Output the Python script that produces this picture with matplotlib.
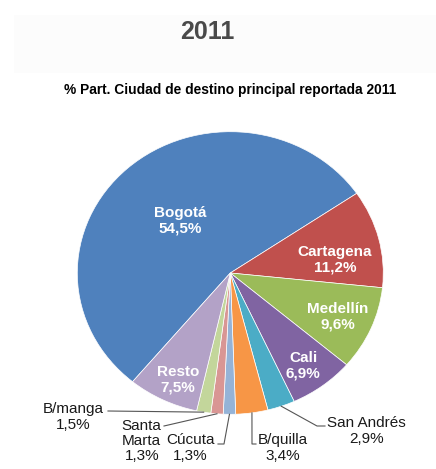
import numpy as np
import matplotlib.pyplot as plt
from matplotlib.patches import Rectangle

plt.rcParams['font.family'] = ['Liberation Sans', 'DejaVu Sans']

# Data (share of trips by main destination city, 2011)
cities = ['Bogotá', 'Cartagena', 'Medellín', 'Cali', 'San Andrés',
          'B/quilla', 'Cúcuta', 'Santa\nMarta', 'B/manga', 'Resto']
share = [54.5, 11.2, 9.6, 6.9, 2.9, 3.4, 1.3, 1.3, 1.5, 7.5]
pct_labels = ['54,5%', '11,2%', '9,6%', '6,9%', '2,9%',
              '3,4%', '1,3%', '1,3%', '1,5%', '7,5%']
colors = ['#4f81bd', '#c0504d', '#9bbb59', '#8064a2', '#4bacc6',
          '#f79646', '#95b3d7', '#d99694', '#c3d69b', '#b3a2c7']

W, H = 436, 469
fig = plt.figure(figsize=(W / 100, H / 100), dpi=100)

# pie bounding box in pixels (slightly wider than tall, like the source)
cx, cy, rx, ry = 230.3, 273.0, 153.0, 141.3
ax = fig.add_axes([(cx - rx) / W, (H - cy - ry) / H, 2 * rx / W, 2 * ry / H])

start = 230.3
wedges, _ = ax.pie(share, colors=colors, startangle=start, counterclock=False,
                   wedgeprops=dict(linewidth=0.5, edgecolor='white'))
ax.set_aspect('auto')
ax.set_xlim(-1, 1)
ax.set_ylim(-1, 1)
ax.axis('off')


def to_data(px, py):
    return (px - cx) / rx, (cy - py) / ry


# labels inside slices
inside = {0: (180, 221), 1: (335, 259.5), 2: (338, 316.5), 3: (303, 366), 9: (178, 379.5)}
for i, (px, py) in inside.items():
    x, y = to_data(px, py)
    ax.text(x, y, cities[i] + '\n' + pct_labels[i], ha='center', va='center',
            color='white', fontsize=11, fontweight='bold', linespacing=1.1)

# labels outside with leader lines
outside = {
    8: ((73, 417), [(108, 411)]),
    7: ((141.7, 441), [(164, 426)]),
    6: ((190, 448), [(218, 444), (224, 444)]),
    5: ((283, 448), [(256, 444), (252, 444)]),
    4: ((366.7, 431), [(325, 426), (317, 426)]),
}
for i, ((px, py), elbow) in outside.items():
    x, y = to_data(px, py)
    ax.text(x, y, cities[i] + '\n' + pct_labels[i], ha='center', va='center',
            color='#1a1a1a', fontsize=11, linespacing=1.1, clip_on=False)
    w = wedges[i]
    mid = np.deg2rad((w.theta1 + w.theta2) / 2)
    pts = [to_data(*p) for p in elbow] + [(np.cos(mid), np.sin(mid))]
    ax.plot([p[0] for p in pts], [p[1] for p in pts], color='#555555',
            linewidth=0.8, clip_on=False)

# header band and titles
fig.patches.append(Rectangle((14 / W, 1 - 73 / H), 1, 58 / H, transform=fig.transFigure,
                             facecolor='#fcfcfc', edgecolor='none', zorder=0))
fig.text(207 / W, 1 - 32 / H, '2011', ha='center', va='center',
         fontsize=18, fontweight='bold', color='#4a4a4a')
fig.text(230.5 / W, 1 - 90 / H, '% Part. Ciudad de destino principal reportada 2011',
         ha='center', va='center', fontsize=9.9, fontweight='bold', color='black')

fig.savefig('out.png', dpi=100)
